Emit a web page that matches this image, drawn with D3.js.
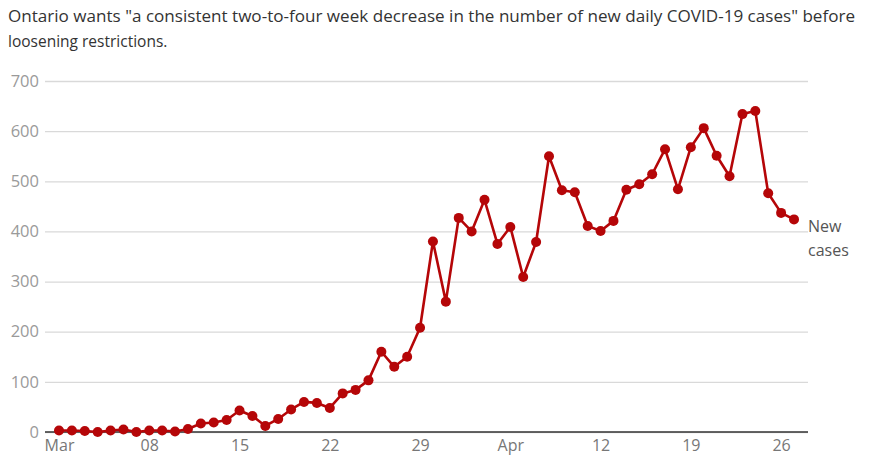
<!DOCTYPE html>
<html>
<head>
<meta charset="utf-8">
<script src="https://cdn.jsdelivr.net/npm/d3@7"></script>
<style>
  body { margin: 0; background: #fff; font-family: "Open Sans", sans-serif; }
  svg text { font-family: "Open Sans", sans-serif; }
</style>
</head>
<body>
<svg id="chart" width="877" height="469"></svg>
<script>
// daily new cases, Mar 1 - Apr 27
let startDate = "2020-03-01";
let newCases = [
    3, 3, 2, 0, 3, 5, 0, 3, 3, 1,
    6, 17, 19, 24, 43, 32, 12, 26, 45, 60,
    58, 48, 77, 84, 103, 160, 130, 150, 208, 380,
    260, 427, 400, 463, 375, 409, 309, 379, 550, 482,
    478, 411, 401, 421, 483, 494, 514, 564, 484, 568,
    606, 551, 510, 634, 640, 476, 437, 424
];
let yTicks = [0, 100, 200, 300, 400, 500, 600, 700];
let titleLines = [
    "Ontario wants \"a consistent two-to-four week decrease in the number of new daily COVID-19 cases\" before",
    "loosening restrictions."
];
let seriesLabel = ["New", "cases"];

let parseDay = d3.timeParse("%Y-%m-%d");
let day0 = parseDay(startDate);
let data = newCases.map((v, i) => ({ date: d3.timeDay.offset(day0, i), value: v }));

let svg = d3.select("#chart");

let x = d3.scaleTime()
    .domain(d3.extent(data, d => d.date))
    .range([59, 794]);
let y = d3.scaleLinear()
    .domain([0, 700])
    .range([432, 81]);

// 标题
svg.append("g").selectAll("text")
    .data(titleLines).join("text")
    .attr("x", 8).attr("y", (d, i) => 22 + i * 25)
    .attr("font-size", 15.5).attr("fill", "#333")
    .attr("textLength", (d, i) => i === 0 ? 847 : null)
    .attr("lengthAdjust", "spacingAndGlyphs")
    .text(d => d);

// 网格线和y轴
let yAxis = svg.append("g")
    .attr("transform", "translate(45,0)")
    .call(d3.axisLeft(y).tickValues(yTicks).tickSize(-763).tickPadding(6));
yAxis.select(".domain").remove();
yAxis.selectAll(".tick line").attr("stroke", "#d9d9d9").attr("stroke-width", 1.3);
yAxis.selectAll(".tick text").attr("fill", "#9a9a9a").attr("font-size", 16.5);

// x轴
let monthTick = d3.timeFormat("%b");
let dayTick = d3.timeFormat("%d");
let xAxis = svg.append("g")
    .attr("transform", `translate(0,${y(0)})`)
    .call(d3.axisBottom(x)
        .ticks(d3.timeWeek.every(1))
        .tickSize(0).tickPadding(8)
        .tickFormat(d => d.getDate() <= 7 ? monthTick(d) : dayTick(d)));
xAxis.select(".domain").remove();
xAxis.selectAll(".tick text").attr("fill", "#777").attr("font-size", 16);

svg.append("line")
    .attr("x1", 45).attr("x2", 808)
    .attr("y1", y(0)).attr("y2", y(0))
    .attr("stroke", "#333").attr("stroke-width", 1.5);

// 折线和圆点
let line = d3.line().x(d => x(d.date)).y(d => y(d.value));
svg.append("path")
    .datum(data)
    .attr("d", line)
    .attr("fill", "none")
    .attr("stroke", "#b50608")
    .attr("stroke-width", 2.6)
    .attr("stroke-linejoin", "round");

svg.append("g").selectAll("circle")
    .data(data).join("circle")
    .attr("cx", d => x(d.date))
    .attr("cy", d => y(d.value))
    .attr("r", 5)
    .attr("fill", "#b50608");

// 系列标签
let last = data[data.length - 1];
svg.append("g").selectAll("text")
    .data(seriesLabel).join("text")
    .attr("x", x(last.date) + 14)
    .attr("y", (d, i) => y(last.value) + 13 + i * 24)
    .attr("font-size", 16).attr("fill", "#555")
    .text(d => d);
</script>
</body>
</html>
